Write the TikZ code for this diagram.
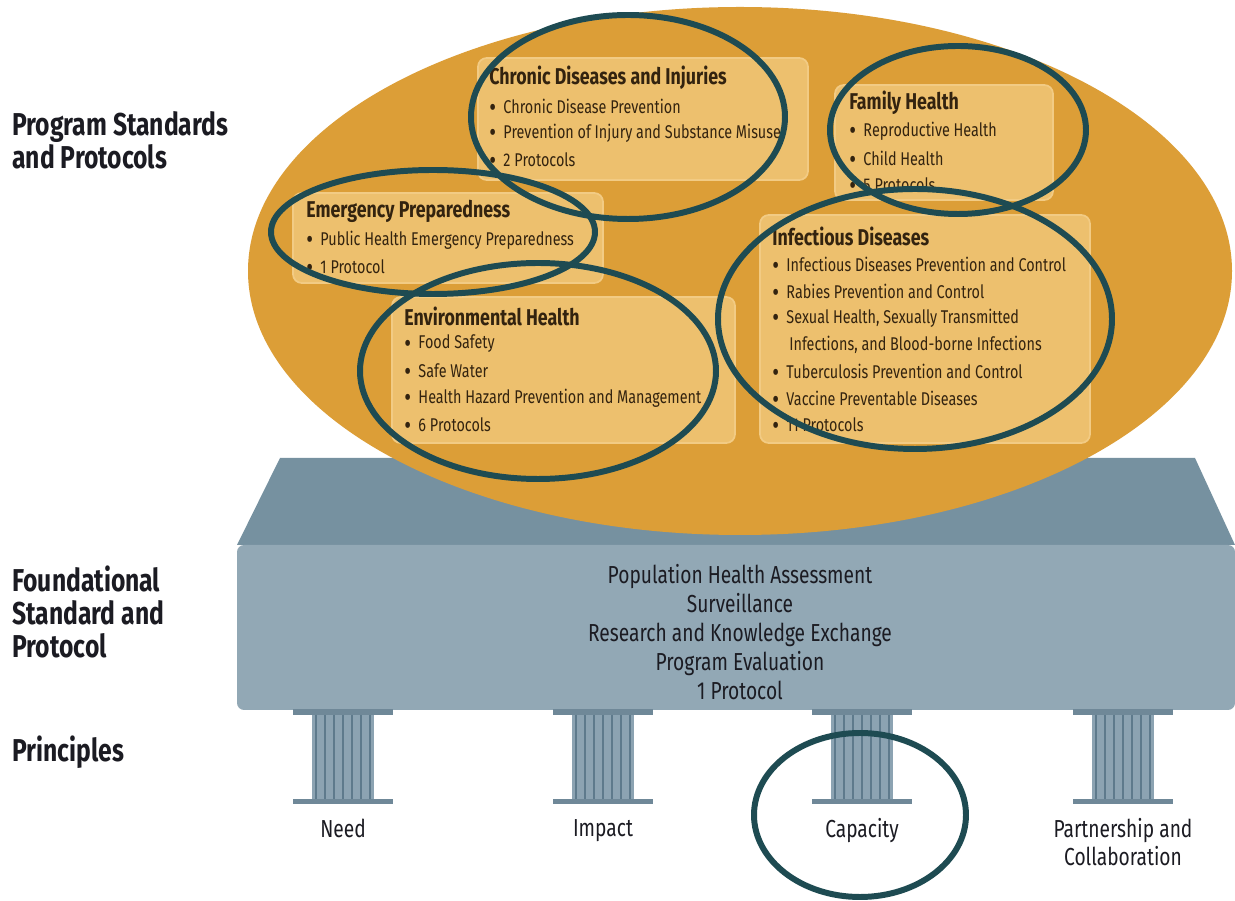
\documentclass[tikz,border=0pt]{standalone}
\usepackage{fontspec}
\setmainfont{Fira Sans}[FakeStretch=0.78]
\usepackage{tikz}
\usetikzlibrary{positioning}
\definecolor{gold}{HTML}{DC9E37}
\definecolor{boxfill}{HTML}{EDC06E}
\definecolor{boxedge}{HTML}{F2CB84}
\definecolor{boxtext}{HTML}{33230F}
\definecolor{platformtop}{HTML}{7691A0}
\definecolor{platformfront}{HTML}{92A8B5}
\definecolor{pillar}{HTML}{8CA3B2}
\definecolor{pillarline}{HTML}{5E7A8C}
\definecolor{pillarcap}{HTML}{6F8898}
\definecolor{notecol}{HTML}{1E4B52}
\definecolor{labeltext}{HTML}{1B1B22}
\newcommand{\bul}{\smash{\raisebox{-.17em}{\scalebox{1.45}{\textbullet}}}\hspace{.4em}}
\tikzstyle{box} = [draw=boxedge, fill=boxfill, rounded corners=5pt, line width=1pt]
\tikzstyle{boxtitle} = [anchor=west, inner sep=0pt, text=boxtext,
    font=\bfseries\fontsize{13}{15}\selectfont]
\tikzstyle{boxitem} = [anchor=west, inner sep=0pt, text=boxtext,
    font=\fontsize{10.5}{12}\selectfont]
\tikzstyle{sidelabel} = [anchor=west, align=left, inner sep=0pt, text=labeltext,
    font=\bfseries\fontsize{18}{18.8}\selectfont]
\tikzstyle{basetext} = [align=center, inner sep=0pt, text=labeltext,
    font=\fontsize{14}{16.6}\selectfont]
\tikzstyle{pillarlabel} = [align=center, inner sep=0pt, text=labeltext,
    text depth=0.25em, font=\fontsize{14}{15.9}\selectfont]
\tikzstyle{note} = [draw=notecol, line width=3.4pt]

\begin{document}
\begin{tikzpicture}[x=0.02cm, y=-0.02cm]
    \useasboundingbox (0,0) rectangle (1235,901);
    \fill[white] (0,0) rectangle (1235,901);

    % Platform
    \fill[platformtop] (280,458) -- (1195,458) -- (1235,545) -- (237,545) -- cycle;
    \fill[platformfront, rounded corners=4pt] (237,545) rectangle (1235,710);

    % Program ellipse
    \fill[gold] (740,271) ellipse [x radius=492, y radius=264];

    % Program boxes
    \draw[box] (478,58) rectangle (808,180);
    \draw[box] (835,85) rectangle (1053,200);
    \draw[box] (293,193) rectangle (603,283);
    \draw[box] (392,297) rectangle (735,443);
    \draw[box] (760,215) rectangle (1090,443);

    % Chronic Diseases and Injuries
    \node [boxtitle] (cdtitle) at (489,78) {Chronic Diseases and Injuries};
    \node [boxitem] (cd1) at (489,106) {\bul Chronic Disease Prevention};
    \node [boxitem] (cd2) at (489,133) {\bul Prevention of Injury and Substance Misuse};
    \node [boxitem] (cd3) at (489,160) {\bul 2 Protocols};

    % Family Health
    \node [boxtitle] (fhtitle) at (849,103) {Family Health};
    \node [boxitem] (fh1) at (849,131) {\bul Reproductive Health};
    \node [boxitem] (fh2) at (849,158) {\bul Child Health};
    \node [boxitem] (fh3) at (849,185) {\bul 5 Protocols};

    % Emergency Preparedness
    \node [boxtitle] (eptitle) at (306,211) {Emergency Preparedness};
    \node [boxitem] (ep1) at (306,240) {\bul Public Health Emergency Preparedness};
    \node [boxitem] (ep2) at (306,267) {\bul 1 Protocol};

    % Environmental Health
    \node [boxtitle] (ehtitle) at (404,316) {Environmental Health};
    \node [boxitem] (eh1) at (404,344) {\bul Food Safety};
    \node [boxitem] (eh2) at (404,371) {\bul Safe Water};
    \node [boxitem] (eh3) at (404,398) {\bul Health Hazard Prevention and Management};
    \node [boxitem] (eh4) at (404,425) {\bul 6 Protocols};

    % Infectious Diseases
    \node [boxtitle] (idtitle) at (772,236) {Infectious Diseases};
    \node [boxitem] (id1) at (772,264) {\bul Infectious Diseases Prevention and Control};
    \node [boxitem] (id2) at (772,291) {\bul Rabies Prevention and Control};
    \node [boxitem] (id3) at (772,318) {\bul Sexual Health, Sexually Transmitted};
    \node [boxitem] (id3b) at (789,345) {Infections, and Blood-borne Infections};
    \node [boxitem] (id4) at (772,371) {\bul Tuberculosis Prevention and Control};
    \node [boxitem] (id5) at (772,398) {\bul Vaccine Preventable Diseases};
    \node [boxitem] (id6) at (772,425) {\bul 11 Protocols};

    % Foundational standard
    \node [basetext] (found) at (740,632) {Population Health Assessment\\Surveillance\\
        Research and Knowledge Exchange\\Program Evaluation\\1 Protocol};

    % Pillars
    \foreach \c in {343,603,862,1123} {
        \fill[pillar] (\c-31,712) rectangle (\c+31,801);
        \foreach \k in {0,...,6}
            \draw[pillarline, line width=1.4pt] (\c-27+9*\k,712) -- (\c-27+9*\k,801);
        \fill[pillarcap] (\c-50,709) rectangle (\c+50,715);
        \fill[pillarcap] (\c-50,799) rectangle (\c+50,804);
    }
    \node [pillarlabel] (need) at (343,830) {Need};
    \node [pillarlabel] (impact) at (603,830) {Impact};
    \node [pillarlabel] (capacity) at (862,830) {Capacity};
    \node [pillarlabel] (partner) at (1123,844) {Partnership and\\Collaboration};

    % Side labels
    \node [sidelabel] (programs) at (12,140) {Program Standards\\and Protocols};
    \node [sidelabel] (foundational) at (12,612) {Foundational\\Standard and\\Protocol};
    \node [sidelabel] (principles) at (12,752) {Principles};

    % Highlight rings
    \draw[note] (628,117) ellipse [x radius=157, y radius=102];
    \draw[note] (958,130) ellipse [x radius=128, y radius=84];
    \draw[note] (433,232) ellipse [x radius=162, y radius=62];
    \draw[note] (538,371) ellipse [x radius=178, y radius=108];
    \draw[note] (915,319) ellipse [x radius=197, y radius=130];
    \draw[note] (860,815) ellipse [x radius=106, y radius=82];
\end{tikzpicture}
\end{document}
